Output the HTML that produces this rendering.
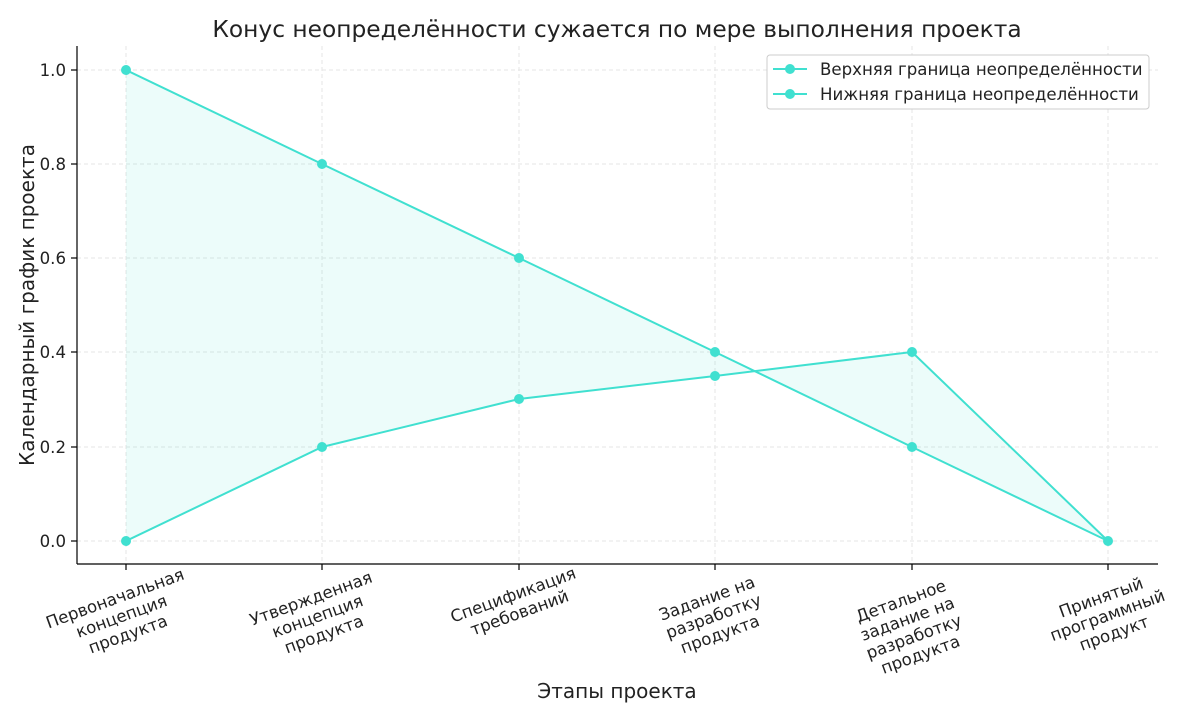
<!DOCTYPE html>
<html><head><meta charset="utf-8"><style>
html,body{margin:0;padding:0;background:#fff;}
svg{display:block;font-family:"DejaVu Sans","Liberation Sans",sans-serif;}
</style></head><body>
<svg width="1200" height="720" viewBox="0 0 1200 720" xmlns="http://www.w3.org/2000/svg">
<rect width="1200" height="720" fill="#fff"/>
<g stroke="#e6e6e6" stroke-width="1" stroke-dasharray="4,3">
<line x1="77" x2="1158" y1="70" y2="70"/>
<line x1="77" x2="1158" y1="164" y2="164"/>
<line x1="77" x2="1158" y1="258" y2="258"/>
<line x1="77" x2="1158" y1="352" y2="352"/>
<line x1="77" x2="1158" y1="447" y2="447"/>
<line x1="77" x2="1158" y1="541" y2="541"/>
<line x1="126" x2="126" y1="46" y2="564"/>
<line x1="322" x2="322" y1="46" y2="564"/>
<line x1="519" x2="519" y1="46" y2="564"/>
<line x1="715" x2="715" y1="46" y2="564"/>
<line x1="912" x2="912" y1="46" y2="564"/>
<line x1="1108" x2="1108" y1="46" y2="564"/>
</g>
<polygon points="126,70 322,164 519,258 715,352 912,447 1108,541 912,352 715,376 519,399 322,447 126,541" fill="#40E0D0" fill-opacity="0.1"/>
<g fill="none" stroke="#40E0D0" stroke-width="2">
<polyline points="126,70 322,164 519,258 715,352 912,447 1108,541"/>
<polyline points="126,541 322,447 519,399 715,376 912,352 1108,541"/>
</g>
<g fill="#40E0D0">
<circle cx="126" cy="70" r="5"/><circle cx="322" cy="164" r="5"/><circle cx="519" cy="258" r="5"/><circle cx="715" cy="352" r="5"/><circle cx="912" cy="447" r="5"/><circle cx="1108" cy="541" r="5"/>
<circle cx="126" cy="541" r="5"/><circle cx="322" cy="447" r="5"/><circle cx="519" cy="399" r="5"/><circle cx="715" cy="376" r="5"/><circle cx="912" cy="352" r="5"/>
</g>
<g stroke="#000" stroke-width="1.2">
<line x1="77" y1="46" x2="77" y2="564"/>
<line x1="77" y1="564" x2="1158" y2="564"/>
<line x1="71" x2="77" y1="70" y2="70"/><line x1="71" x2="77" y1="164" y2="164"/><line x1="71" x2="77" y1="258" y2="258"/><line x1="71" x2="77" y1="352" y2="352"/><line x1="71" x2="77" y1="447" y2="447"/><line x1="71" x2="77" y1="541" y2="541"/>
<line x1="126" x2="126" y1="564" y2="570"/><line x1="322" x2="322" y1="564" y2="570"/><line x1="519" x2="519" y1="564" y2="570"/><line x1="715" x2="715" y1="564" y2="570"/><line x1="912" x2="912" y1="564" y2="570"/><line x1="1108" x2="1108" y1="564" y2="570"/>
</g>
<g font-size="16.6" fill="#222" text-anchor="end">
<text x="66" y="76">1.0</text><text x="66" y="170">0.8</text><text x="66" y="264">0.6</text><text x="66" y="358">0.4</text><text x="66" y="453">0.2</text><text x="66" y="547">0.0</text>
</g>
<g font-size="16.6" fill="#222" text-anchor="middle">
<g transform="translate(121,615) rotate(-20)"><text y="-12">Первоначальная</text><text y="7">концепция</text><text y="26">продукта</text></g>
<g transform="translate(317,615) rotate(-20)"><text y="-12">Утвержденная</text><text y="7">концепция</text><text y="26">продукта</text></g>
<g transform="translate(516,603) rotate(-20)"><text y="-3">Спецификация</text><text y="16">требований</text></g>
<g transform="translate(713,615) rotate(-20)"><text y="-12">Задание на</text><text y="7">разработку</text><text y="26">продукта</text></g>
<g transform="translate(910,626) rotate(-20)"><text y="-21">Детальное</text><text y="-2">задание на</text><text y="17">разработку</text><text y="36">продукта</text></g>
<g transform="translate(1107,614) rotate(-20)"><text y="-12">Принятый</text><text y="7">программный</text><text y="26">продукт</text></g>
</g>
<text x="617" y="37" font-size="23.3" text-anchor="middle" fill="#222">Конус неопределённости сужается по мере выполнения проекта</text>
<text x="617" y="698" font-size="20" text-anchor="middle" fill="#222">Этапы проекта</text>
<text transform="translate(34,305) rotate(-90)" font-size="20" text-anchor="middle" fill="#222">Календарный график проекта</text>
<rect x="767" y="55" width="382" height="54" rx="3" fill="#fff" stroke="#ccc"/>
<g stroke="#40E0D0" stroke-width="2"><line x1="773" x2="807" y1="69" y2="69"/><line x1="773" x2="807" y1="94" y2="94"/></g>
<g fill="#40E0D0"><circle cx="790" cy="69" r="5"/><circle cx="790" cy="94" r="5"/></g>
<g font-size="16.6" fill="#222"><text x="820" y="75">Верхняя граница неопределённости</text><text x="820" y="100">Нижняя граница неопределённости</text></g>
</svg>
</body></html>
